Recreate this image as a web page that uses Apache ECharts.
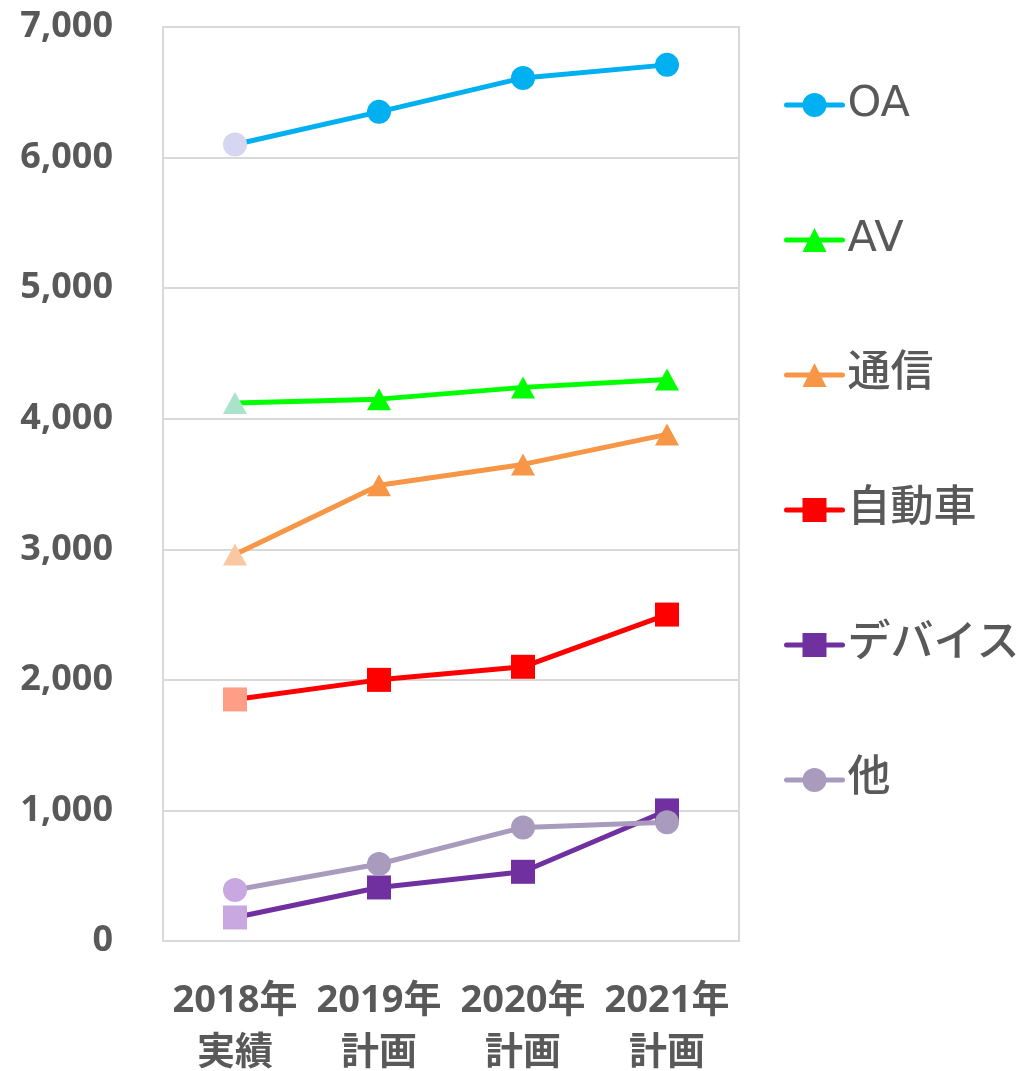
<!DOCTYPE html>
<html>
<head>
<meta charset="utf-8">
<script src="https://cdn.jsdelivr.net/npm/echarts@6/dist/echarts.min.js"></script>
<style>
  html, body { margin: 0; padding: 0; background: #fff; }
  #main { width: 1019px; height: 1071px; }
</style>
</head>
<body>
<div id="main"></div>
<script>
var categories = ['2018年\n実績', '2019年\n計画', '2020年\n計画', '2021年\n計画'];
var seriesNames = ['OA', 'AV', '通信', '自動車', 'デバイス', '他'];
var oaValues = [6100, 6350, 6610, 6710];
var avValues = [4120, 4150, 4240, 4300];
var tsushinValues = [2960, 3490, 3650, 3880];
var jidoshaValues = [1850, 2000, 2100, 2500];
var deviceValues = [180, 410, 530, 1000];
var otherValues = [390, 590, 870, 910];
var yTicks = [0, 1000, 2000, 3000, 4000, 5000, 6000, 7000];

var myChart = echarts.init(document.getElementById('main'));

// 系列ごとの色・記号 (1点目は実績なので淡色)
var styles = [
  { data: oaValues, color: '#00b0f0', first: '#d6d5f2', symbol: 'circle', size: 24 },
  { data: avValues, color: '#00ff00', first: '#a9e3c9', symbol: 'triangle', size: [24, 22] },
  { data: tsushinValues, color: '#f79646', first: '#fac8a0', symbol: 'triangle', size: [24, 22] },
  { data: jidoshaValues, color: '#ff0000', first: '#ff9e86', symbol: 'rect', size: 24 },
  { data: deviceValues, color: '#7030a0', first: '#c9a8e2', symbol: 'rect', size: 24 },
  { data: otherValues, color: '#a99bbd', first: '#c9a8e2', symbol: 'circle', size: 24 }
];

var series = styles.map(function (s, i) {
  return {
    name: seriesNames[i],
    type: 'line',
    symbol: s.symbol,
    symbolSize: s.size,
    showAllSymbol: true,
    lineStyle: { color: s.color, width: 5 },
    itemStyle: { color: s.color },
    data: s.data.map(function (v, j) {
      return j === 0 ? { value: v, itemStyle: { color: s.first } } : v;
    })
  };
});

option = {
  animation: false,
  backgroundColor: '#fff',
  grid: {
    left: 163, right: 280, top: 27, bottom: 130,
    outerBoundsMode: 'none',
    containLabel: false,
    show: true, borderColor: '#d9d9d9', borderWidth: 2
  },
  legend: {
    orient: 'vertical',
    left: 779,
    top: 76,
    itemWidth: 56,
    itemHeight: 30,
    itemGap: 87,
    itemTextGap: 6,
    data: seriesNames,
    lineStyle: { width: 5, cap: 'round' },
    textStyle: {
      fontSize: 43,
      lineHeight: 48,
      fontWeight: 500,
      color: '#595959',
      fontFamily: 'DejaVu Sans, Noto Sans CJK JP'
    }
  },
  xAxis: {
    type: 'category',
    data: categories,
    axisTick: { show: false },
    axisLine: { lineStyle: { color: '#d9d9d9', width: 2 } },
    axisLabel: {
      interval: 0,
      margin: 34,
      fontSize: 38,
      lineHeight: 52,
      fontWeight: 'bold',
      color: '#595959',
      fontFamily: 'Noto Sans, Noto Sans CJK JP'
    }
  },
  yAxis: {
    type: 'value',
    min: yTicks[0],
    max: yTicks[yTicks.length - 1],
    interval: 1000,
    axisLine: { show: true, lineStyle: { color: '#d9d9d9', width: 2 } },
    splitLine: { lineStyle: { color: '#d9d9d9', width: 2 } },
    axisLabel: {
      margin: 50,
      fontSize: 36,
      fontWeight: 'bold',
      color: '#595959',
      fontFamily: 'Noto Sans',
      formatter: function (v) { return v.toLocaleString('en-US'); }
    }
  },
  series: series
};

myChart.setOption(option);
</script>
</body>
</html>
